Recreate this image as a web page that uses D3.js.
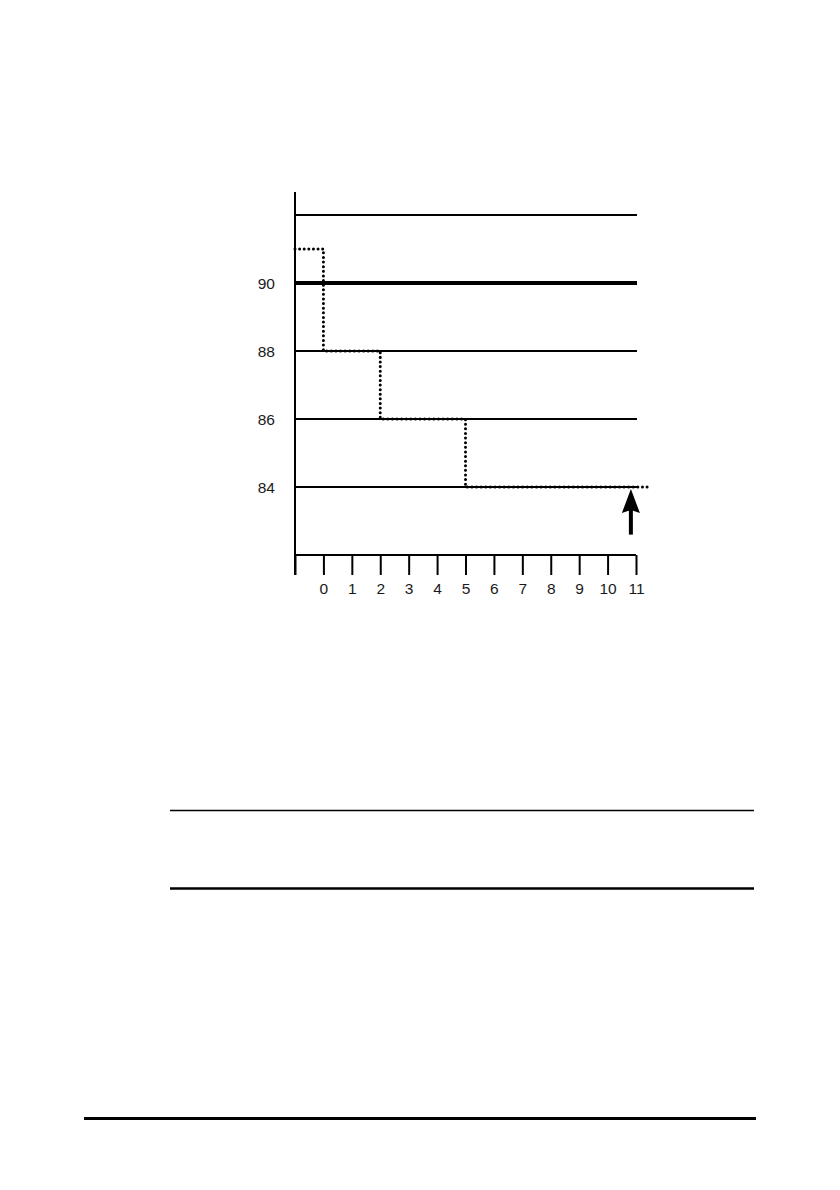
<!DOCTYPE html>
<html><head><meta charset="utf-8">
<script src="https://cdn.jsdelivr.net/npm/d3@7"></script>
<style>html,body{margin:0;padding:0;background:#fff;}svg{display:block;}</style>
</head><body>
<script>
// Data
const xTicks = [-1,0,1,2,3,4,5,6,7,8,9,10,11];
const xTickLabels = ["","0","1","2","3","4","5","6","7","8","9","10","11"];
const gridValues = [84,86,88,92];
const thresholdValue = 90;
const yLabels = [84,86,88,90];
const stepX = [-1,0,2,5,11.4];
const stepY = [91,88,86,84,84];
const arrowX = 10.82;
const arrowFromY = 82.6;
const arrowToY = 84;

const W = 840, H = 1190;
const svg = d3.select("body").append("svg").attr("width",W).attr("height",H);
const x = d3.scaleLinear().domain([-1,11]).range([295,636]);
const y = d3.scaleLinear().domain([82,92]).range([555,215]);
const font = "'Liberation Sans', Arial, Helvetica, sans-serif";
const fs = 15.5;

// gridlines
svg.append("g").selectAll("line").data(gridValues).join("line")
  .attr("x1",x(-1)).attr("x2",x(11)+1).attr("y1",d=>y(d)).attr("y2",d=>y(d))
  .attr("stroke","#000").attr("stroke-width",1.8);
svg.append("line").attr("x1",x(-1)).attr("x2",x(11)+1)
  .attr("y1",y(thresholdValue)).attr("y2",y(thresholdValue))
  .attr("stroke","#000").attr("stroke-width",4);

// y axis line
svg.append("line").attr("x1",x(-1)).attr("x2",x(-1)).attr("y1",192).attr("y2",575)
  .attr("stroke","#000").attr("stroke-width",2);

// y labels
svg.append("g").selectAll("text").data(yLabels).join("text")
  .attr("x",275).attr("y",d=>y(d)+5.5).attr("text-anchor","end")
  .attr("font-family",font).attr("font-size",fs).attr("fill","#1a1a1a")
  .text(d=>d);

// x axis
const xAxis = d3.axisBottom(x).tickValues(xTicks).tickSize(20)
  .tickFormat((d,i)=>xTickLabels[i]);
const gx = svg.append("g").attr("transform",`translate(0,${y(82)})`).call(xAxis);
gx.attr("font-size",fs).attr("font-family",font);
gx.select(".domain").attr("stroke","#000").attr("stroke-width",2)
  .attr("d",`M${x(-1)},0H${x(11)}`);
gx.selectAll(".tick line").attr("stroke","#000").attr("stroke-width",2);
gx.selectAll(".tick text").attr("font-family",font).attr("font-size",fs)
  .attr("fill","#1a1a1a").attr("y",28).attr("dy","0.71em");

// dotted step line
const pts = stepX.map((v,i)=>[v,stepY[i]]);
const line = d3.line().x(d=>x(d[0])).y(d=>y(d[1])).curve(d3.curveStepAfter);
svg.append("path").attr("d",line(pts)).attr("fill","none")
  .attr("stroke","#000").attr("stroke-width",3)
  .attr("stroke-linecap","round").attr("stroke-dasharray","0.01,4.6");

// arrow
const ax = x(arrowX), tipY = y(arrowToY)+2, botY = y(arrowFromY);
svg.append("line").attr("x1",ax).attr("x2",ax).attr("y1",tipY+20).attr("y2",botY)
  .attr("stroke","#000").attr("stroke-width",4);
svg.append("path")
  .attr("d",`M${ax},${tipY} L${ax+9},${tipY+24} L${ax},${tipY+21} L${ax-9},${tipY+24} Z`)
  .attr("fill","#000");

// page rules
svg.append("line").attr("x1",170).attr("x2",754).attr("y1",810.5).attr("y2",810.5)
  .attr("stroke","#000").attr("stroke-width",1.3);
svg.append("line").attr("x1",170).attr("x2",754).attr("y1",888.5).attr("y2",888.5)
  .attr("stroke","#000").attr("stroke-width",2.5);
svg.append("line").attr("x1",84).attr("x2",756).attr("y1",1118.5).attr("y2",1118.5)
  .attr("stroke","#000").attr("stroke-width",3);
</script>
</body></html>
